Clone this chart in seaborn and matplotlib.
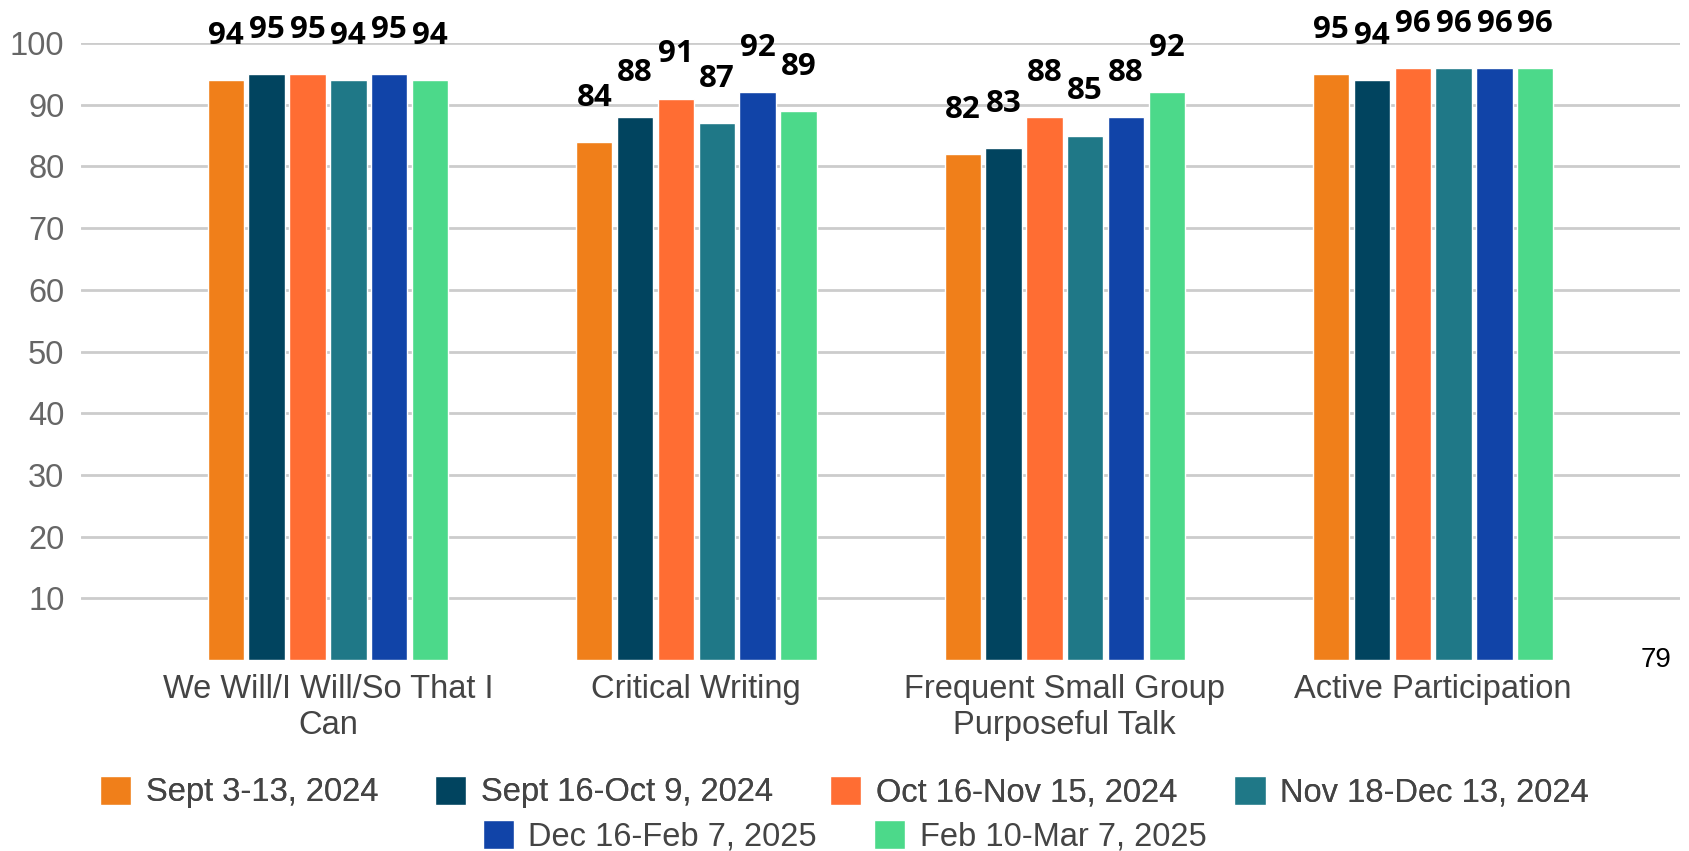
import pandas as pd
import matplotlib.pyplot as plt
import seaborn as sns
from matplotlib.patches import Patch

categories = ["We Will/I Will/So That I\nCan", "Critical Writing",
              "Frequent Small Group\nPurposeful Talk", "Active Participation"]
periods = ["Sept 3-13, 2024", "Sept 16-Oct 9, 2024", "Oct 16-Nov 15, 2024",
           "Nov 18-Dec 13, 2024", "Dec 16-Feb 7, 2025", "Feb 10-Mar 7, 2025"]
values = {
    "Sept 3-13, 2024": [94, 84, 82, 95],
    "Sept 16-Oct 9, 2024": [95, 88, 83, 94],
    "Oct 16-Nov 15, 2024": [95, 91, 88, 96],
    "Nov 18-Dec 13, 2024": [94, 87, 85, 96],
    "Dec 16-Feb 7, 2025": [95, 92, 88, 96],
    "Feb 10-Mar 7, 2025": [94, 89, 92, 96],
}
colors = ["#F07F1A", "#01445F", "#FF6D33", "#1F7887", "#1144A8", "#4CD98A"]

rows = []
for p in periods:
    for c, v in zip(categories, values[p]):
        rows.append({"category": c, "period": p, "value": v})
df = pd.DataFrame(rows)

sns.set_style("white")
plt.rcParams['font.family'] = ['Liberation Sans', 'DejaVu Sans']

fig = plt.figure(figsize=(16.89, 8.51), dpi=100)
ax = fig.add_axes([0.048, 0.2244, 0.9467, 0.725])

sns.barplot(data=df, x="category", y="value", hue="period", order=categories,
            hue_order=periods, palette=colors, width=0.665, gap=0.11,
            saturation=1, legend=False, ax=ax)

for cont in ax.containers:
    for bar in cont:
        h = bar.get_height()
        ax.annotate(f"{h:.0f}", (bar.get_x() + bar.get_width() / 2, h),
                    xytext=(0, 26), textcoords="offset points", ha="center",
                    va="baseline", fontsize=22.5, fontweight="bold",
                    family="Open Sans", color="black", annotation_clip=False)

ax.set_ylim(0, 100)
ax.set_xlim(-0.67, 3.67)
ax.set_yticks(range(10, 101, 10))
ax.yaxis.grid(True, color="#cccccc", linewidth=2)
ax.set_axisbelow(True)
for s in ax.spines.values():
    s.set_visible(False)
ax.tick_params(axis="y", labelsize=23.5, labelcolor="#666666", length=0, pad=12)
ax.tick_params(axis="x", labelsize=23.5, labelcolor="#444444", length=0, pad=10)
ax.set_xlabel("")
ax.set_ylabel("")

fig.text(1656 / 1689, 1 - 660 / 851, "79", fontsize=20, color="black",
         ha="center", va="center")

handles = [Patch(facecolor=c, label=p) for c, p in zip(colors, periods)]
leg_kw = dict(frameon=False, fontsize=23.5, handlelength=0.95, handleheight=1.0,
              handletextpad=0.45, columnspacing=1.75, labelcolor="#444444")
leg1 = fig.legend(handles=handles[:4], ncol=4, loc="center",
                  bbox_to_anchor=(0.5, 1 - 792 / 851), **leg_kw)
fig.add_artist(leg1)
fig.legend(handles=handles[4:], ncol=2, loc="center",
           bbox_to_anchor=(0.5, 1 - 836 / 851), **leg_kw)

fig.savefig("out.png", dpi=100)
